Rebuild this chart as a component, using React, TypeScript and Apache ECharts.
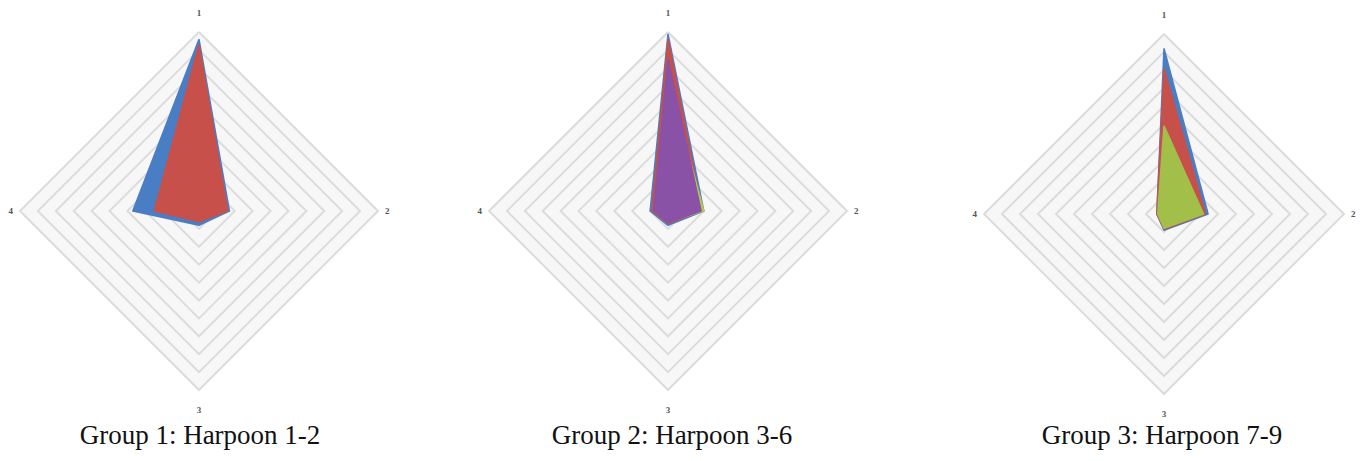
import React, { useEffect, useRef } from "react";
import * as echarts from "echarts";

// Axis names, in the reference's order: 1 top, 2 right, 3 bottom, 4 left
const axisNames = ["1", "2", "3", "4"];

// Group 1: Harpoon 1-2 (values for axes 1..4)
const g1Blue = [0.96, 0.17, 0.08, 0.37];
const g1Red = [0.93, 0.16, 0.06, 0.25];

// Group 2: Harpoon 3-6
const g2Blue = [0.99, 0.2, 0.08, 0.1];
const g2Red = [0.96, 0.19, 0.07, 0.09];
const g2Green = [0.74, 0.2, 0.06, 0.07];
const g2Purple = [0.85, 0.185, 0.065, 0.08];

// Group 3: Harpoon 7-9
const g3Blue = [0.92, 0.245, 0.09, 0.04];
const g3Red = [0.81, 0.23, 0.085, 0.04];
const g3Green = [0.49, 0.22, 0.08, 0.035];

const titles = ["Group 1: Harpoon 1-2", "Group 2: Harpoon 3-6", "Group 3: Harpoon 7-9"];

const BLUE = "#4A7EC4";
const RED = "#C8504B";
const GREEN = "#A2BF4A";
const YELLOW_GREEN = "#B5C94A";
const PURPLE = "#8A52A6";

const SERIF = "'Liberation Serif', 'Times New Roman', serif";

// ECharts lays indicators counter-clockwise from the top: 1, 4, 3, 2
const toRadarOrder = (v: number[]) => [v[0], v[3], v[2], v[1]];
const indicatorOrder = [0, 3, 2, 1];

export default function App() {
  const ref = useRef<HTMLDivElement>(null);

  useEffect(() => {
    if (!ref.current) return;
    const chart = echarts.init(ref.current, undefined, { renderer: "svg" });

    const layouts = [
      { center: [199, 211], radius: 179, titleX: 200 },
      { center: [668, 211], radius: 179, titleX: 672 },
      { center: [1164, 214], radius: 180, titleX: 1162 },
    ];

    const radar = layouts.map((l) => ({
      center: l.center,
      radius: l.radius,
      startAngle: 90,
      shape: "polygon",
      splitNumber: 10,
      indicator: indicatorOrder.map((i) => ({ name: axisNames[i], min: 0, max: 1 })),
      axisName: {
        color: "#555555",
        fontSize: 9,
        fontFamily: SERIF,
        fontWeight: "bold",
        padding: [8, 0, 8, 0],
      },
      nameGap: 7,
      axisLine: { show: false },
      axisTick: { show: false },
      axisLabel: { show: false },
      splitLine: { lineStyle: { color: "#dcdcdc", width: 2 } },
      splitArea: { show: true, areaStyle: { color: ["#f7f7f7"] } },
    }));

    const groups = [
      [
        { name: "Harpoon 1", v: g1Blue, c: BLUE },
        { name: "Harpoon 2", v: g1Red, c: RED },
      ],
      [
        { name: "Harpoon 3", v: g2Blue, c: BLUE },
        { name: "Harpoon 4", v: g2Red, c: RED },
        { name: "Harpoon 5", v: g2Green, c: YELLOW_GREEN },
        { name: "Harpoon 6", v: g2Purple, c: PURPLE },
      ],
      [
        { name: "Harpoon 7", v: g3Blue, c: BLUE },
        { name: "Harpoon 8", v: g3Red, c: RED },
        { name: "Harpoon 9", v: g3Green, c: GREEN },
      ],
    ];

    const series: any[] = [];
    groups.forEach((g, gi) => {
      g.forEach((s, si) => {
        series.push({
          type: "radar",
          name: s.name,
          radarIndex: gi,
          symbol: "none",
          z: 2 + si,
          lineStyle: { color: s.c, width: 1.5 },
          areaStyle: { color: s.c, opacity: 1 },
          itemStyle: { color: s.c },
          data: [{ value: toRadarOrder(s.v), name: s.name }],
        });
      });
    });

    chart.setOption({
      animation: false,
      backgroundColor: "#ffffff",
      title: layouts.map((l, i) => ({
        text: titles[i],
        left: l.titleX,
        top: 421,
        textAlign: "center",
        padding: 0,
        textStyle: {
          color: "#111111",
          fontSize: 27,
          fontWeight: "normal",
          fontFamily: SERIF,
        },
      })),
      radar,
      series,
    });

    return () => chart.dispose();
  }, []);

  return (
    <div
      ref={ref}
      style={{ position: "fixed", left: 0, top: 0, width: 1372, height: 461, background: "#fff" }}
    />
  );
}
